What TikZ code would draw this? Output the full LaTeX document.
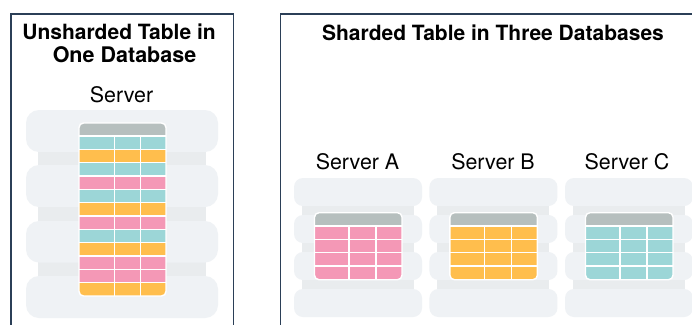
\documentclass[tikz,border=0pt]{standalone}
\usepackage{fontspec}
\setmainfont{TeX Gyre Heros}
\definecolor{frameclr}{HTML}{2B3F57}
\definecolor{disk}{HTML}{EFF2F5}
\definecolor{linkclr}{HTML}{E9ECEE}
\definecolor{hdr}{HTML}{B6BFBE}
\definecolor{tealc}{HTML}{9CD6D7}
\definecolor{goldc}{HTML}{FFBE4D}
\definecolor{rosec}{HTML}{F498B6}
\tikzset{
  x=1pt,y=-1pt,
  frameline/.style={draw=frameclr,line width=1.2pt},
  titletext/.style={font=\fontsize{21}{24}\selectfont\bfseries,inner sep=0pt,anchor=base},
  labeltext/.style={font=\fontsize{21.4}{24}\selectfont,inner sep=0pt,anchor=base},
  diskshape/.style={fill=disk,rounded corners=#1},
  linkshape/.style={fill=linkclr},
  tablegrid/.style={draw=white,line width=1.4pt},
}
% #1 x0, #2 y0 (table top-left), #3 x1, #4 header bottom, #5 y1, #6 sep1, #7 sep2, #8 colour list
\newcommand{\dbtable}[8]{%
  \begin{scope}
    \clip[rounded corners=4.5pt] (#1,#2) rectangle (#3,#5);
    \fill[hdr] (#1,#2) rectangle (#3,#4);
    \pgfmathsetmacro{\rowh}{13.33}
    \foreach \rowcol [count=\i from 0] in {#8} {
      \pgfmathsetmacro{\ya}{#4+\i*\rowh}
      \pgfmathsetmacro{\yb}{\ya+\rowh}
      \fill[\rowcol] (#1,\ya) rectangle (#3,\yb);
    }
    \foreach \rowcol [count=\i from 0] in {#8} {
      \pgfmathsetmacro{\ya}{#4+\i*\rowh}
      \draw[tablegrid] (#1,\ya) -- (#3,\ya);
    }
    \draw[tablegrid] (#6,#4) -- (#6,#5);
    \draw[tablegrid] (#7,#4) -- (#7,#5);
  \end{scope}
  \draw[tablegrid,rounded corners=4.5pt] (#1,#2) rectangle (#3,#5);
}
\begin{document}
\begin{tikzpicture}
\useasboundingbox (0,0) rectangle (692,324);
\fill[white] (0,0) rectangle (692,324);
% frames
\draw[frameline] (11,330) -- (11,14) -- (233.5,14) -- (233.5,330);
\draw[frameline] (280.5,330) -- (280.5,14) -- (700,14);
% titles
\node[titletext] (t1) at (119,39.5) {Unsharded Table in};
\node[titletext,font=\fontsize{21.5}{24}\selectfont\bfseries] (t2) at (124.5,62.5) {One Database};
\node[titletext] (t3) at (493,40) {Sharded Table in Three Databases};
\node[labeltext] (s0) at (121.5,102) {Server};
\node[labeltext] (sa) at (357.5,169) {Server A};
\node[labeltext] (sb) at (493,169) {Server B};
\node[labeltext] (sc) at (627,169) {Server C};
% left server
\fill[linkshape] (37.5,140) rectangle (206,290);
\foreach \a/\b in {110/152,165/207,221/262.5,276/318}
  \fill[diskshape=13pt] (26,\a) rectangle (218,\b);
\dbtable{79}{123}{166}{136}{296}{114.3}{140.5}{tealc,goldc,tealc,rosec,tealc,goldc,rosec,tealc,goldc,rosec,rosec,goldc}
% right servers
\foreach \dx/\servercol in {0/rosec,135.4/goldc,271/tealc} {
  \begin{scope}[shift={(\dx,0)}]
    \fill[linkshape] (301.5,190) rectangle (414,300);
    \foreach \a in {178,215,252,289}
      \fill[diskshape=9pt] (294,\a) rectangle (422,\a+28);
    \dbtable{314.5}{212.7}{402}{226}{279.7}{349}{376}{\servercol,\servercol,\servercol,\servercol}
  \end{scope}
}
\end{tikzpicture}
\end{document}
